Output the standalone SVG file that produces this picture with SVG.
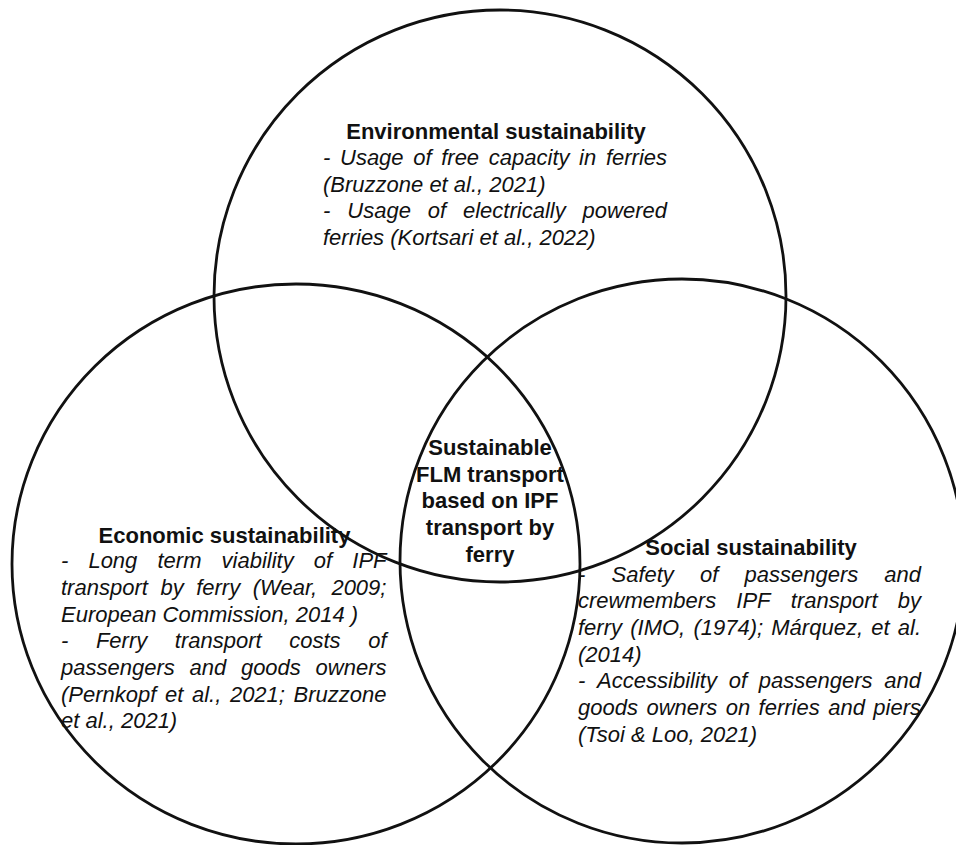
<svg xmlns="http://www.w3.org/2000/svg" width="956" height="845" viewBox="0 0 956 845">
<style>
  .ring { fill: none; stroke: #111; stroke-width: 2.8; }
  .h { font-family: "Liberation Sans", Arial, sans-serif; font-size: 22px; font-weight: bold; fill: #111; text-anchor: middle; }
  .b { font-family: "Liberation Sans", Arial, sans-serif; font-size: 22px; font-style: italic; fill: #111; }
</style>
<rect width="956" height="845" fill="#ffffff"/>
<g id="circles">
  <circle id="ring-env" class="ring" cx="500" cy="296" r="286"/>
  <ellipse id="ring-eco" class="ring" cx="296" cy="564" rx="284" ry="280"/>
  <circle id="ring-soc" class="ring" cx="682" cy="561" r="282"/>
</g>
<g id="connectors"></g>
<g id="node-environmental">
  <text class="h" x="496" y="139.3">Environmental sustainability</text>
  <text class="b" y="165"><tspan x="323">-</tspan><tspan x="340">Usage</tspan><tspan x="413.2">of</tspan><tspan x="441.2">free</tspan><tspan x="488.8">capacity</tspan><tspan x="579.1">in</tspan><tspan x="605.9">ferries</tspan></text>
  <text class="b" x="323" y="191.7">(Bruzzone et al., 2021)</text>
  <text class="b" y="218.3"><tspan x="323">-</tspan><tspan x="347.3">Usage</tspan><tspan x="427.8">of</tspan><tspan x="463">electrically</tspan><tspan x="582.6">powered</tspan></text>
  <text class="b" x="323" y="245">ferries (Kortsari et al., 2022)</text>
</g>
<g id="node-economic">
  <text class="h" x="224.5" y="542.5">Economic sustainability</text>
  <text class="b" y="568.3"><tspan x="61">-</tspan><tspan x="88.4">Long</tspan><tspan x="157.5">term</tspan><tspan x="221.6">viability</tspan><tspan x="313.8">of</tspan><tspan x="352.3">IPF</tspan></text>
  <text class="b" y="595"><tspan x="61">transport</tspan><tspan x="160.4">by</tspan><tspan x="196.2">ferry</tspan><tspan x="252.8">(Wear,</tspan><tspan x="331.4">2009;</tspan></text>
  <text class="b" x="61" y="621.7">European Commission, 2014 )</text>
  <text class="b" y="648.3"><tspan x="61">-</tspan><tspan x="95.9">Ferry</tspan><tspan x="174.8">transport</tspan><tspan x="289.2">costs</tspan><tspan x="368.2">of</tspan></text>
  <text class="b" y="675"><tspan x="61">passengers</tspan><tspan x="189.5">and</tspan><tspan x="240.9">goods</tspan><tspan x="315.6">owners</tspan></text>
  <text class="b" y="701.7"><tspan x="61">(Pernkopf</tspan><tspan x="165">et</tspan><tspan x="192">al.,</tspan><tspan x="229.9">2021;</tspan><tspan x="293.6">Bruzzone</tspan></text>
  <text class="b" x="61" y="728.3">et al., 2021)</text>
</g>
<g id="node-social">
  <text class="h" x="751" y="555">Social sustainability</text>
  <text class="b" y="581.7"><tspan x="578">-</tspan><tspan x="611.5">Safety</tspan><tspan x="700">of</tspan><tspan x="744.5">passengers</tspan><tspan x="884.3">and</tspan></text>
  <text class="b" y="608.3"><tspan x="578">crewmembers</tspan><tspan x="736.3">IPF</tspan><tspan x="790.8">transport</tspan><tspan x="897.8">by</tspan></text>
  <text class="b" y="635"><tspan x="578">ferry</tspan><tspan x="630.2">(IMO,</tspan><tspan x="693.4">(1974);</tspan><tspan x="771.3">Márquez,</tspan><tspan x="871.2">et</tspan><tspan x="897.8">al.</tspan></text>
  <text class="b" x="578" y="661.7">(2014)</text>
  <text class="b" y="688.3"><tspan x="578">-</tspan><tspan x="597.1">Accessibility</tspan><tspan x="728.7">of</tspan><tspan x="758.8">passengers</tspan><tspan x="884.3">and</tspan></text>
  <text class="b" y="715"><tspan x="578">goods</tspan><tspan x="646.4">owners</tspan><tspan x="725.7">on</tspan><tspan x="758.6">ferries</tspan><tspan x="828.2">and</tspan><tspan x="873.3">piers</tspan></text>
  <text class="b" x="578" y="741.7">(Tsoi &amp; Loo, 2021)</text>
</g>
<g id="node-center">
  <text class="h" x="490" y="455">Sustainable</text>
  <text class="h" x="490" y="481.7">FLM transport</text>
  <text class="h" x="490" y="508.3">based on IPF</text>
  <text class="h" x="490" y="535">transport by</text>
  <text class="h" x="490" y="561.7">ferry</text>
</g>
</svg>
